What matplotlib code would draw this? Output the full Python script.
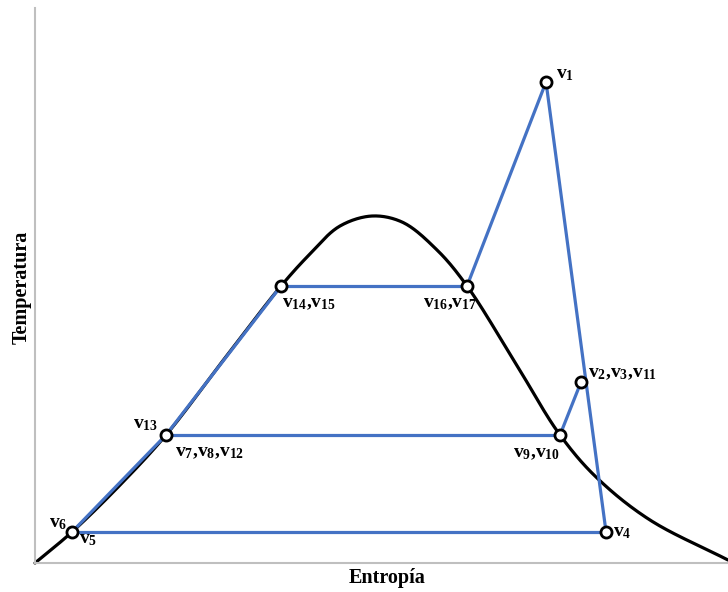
import matplotlib
matplotlib.use("Agg")
import matplotlib.pyplot as plt
import numpy as np

plt.rcParams['font.family'] = ['Liberation Serif', 'DejaVu Serif']
plt.rcParams['mathtext.fontset'] = 'custom'
plt.rcParams['mathtext.rm'] = 'Liberation Serif:bold'
plt.rcParams['mathtext.it'] = 'Liberation Serif:bold'
plt.rcParams['mathtext.bf'] = 'Liberation Serif:bold'

BLUE = '#4472C4'
GRID = '#BFBFBF'

# saturation dome (entropy, temperature), arbitrary units
dome_s = [0.0, 5.34, 12.27, 18.90, 27.42, 35.50, 39.68, 44.01, 48.63,
          52.96, 58.01, 62.34, 69.41, 75.76, 81.10, 88.74, 100.0]
dome_T = [0.0, 5.59, 14.05, 23.06, 36.94, 49.91, 55.68, 60.72, 62.52,
          61.44, 56.40, 49.91, 35.86, 23.06, 15.32, 7.75, 0.54]

# cycle state points
states = {
    'v1': (73.74, 86.67),
    'v2': (78.79, 32.61),
    'v4': (82.40, 5.59),
    'v5': (5.34, 5.59),
    'v7': (18.90, 23.06),
    'v9': (75.76, 23.06),
    'v14': (35.50, 49.91),
    'v16': (62.34, 49.91),
}

# cycle path segments
segments = [
    ('v5', 'v7'), ('v7', 'v14'), ('v14', 'v16'), ('v16', 'v1'),
    ('v1', 'v4'), ('v4', 'v5'), ('v7', 'v9'), ('v9', 'v2'),
]

# labels: text, anchor state, pixel offset, alignment
labels = [
    (r'$\mathrm{v}_{1}$', 'v1', (10, 4), 'left'),
    (r'$\mathrm{v}_{2}$,$\mathrm{v}_{3}$,$\mathrm{v}_{11}$', 'v2', (7, 5), 'left'),
    (r'$\mathrm{v}_{4}$', 'v4', (7, -4), 'left'),
    (r'$\mathrm{v}_{5}$', 'v5', (7, -11), 'left'),
    (r'$\mathrm{v}_{6}$', 'v5', (-5, 5), 'right'),
    (r'$\mathrm{v}_{13}$', 'v7', (-8, 7), 'right'),
    (r'$\mathrm{v}_{7}$,$\mathrm{v}_{8}$,$\mathrm{v}_{12}$', 'v7', (9, -21), 'left'),
    (r'$\mathrm{v}_{9}$,$\mathrm{v}_{10}$', 'v9', (0, -22), 'right'),
    (r'$\mathrm{v}_{14}$,$\mathrm{v}_{15}$', 'v14', (1, -21), 'left'),
    (r'$\mathrm{v}_{16}$,$\mathrm{v}_{17}$', 'v16', (10, -21), 'right'),
]


def smooth(xs, ys, n=30, alpha=0.5):
    # centripetal Catmull-Rom through the points (no overshoot between uneven points)
    p = np.column_stack([xs, ys]).astype(float)
    p = np.vstack([2 * p[0] - p[1], p, 2 * p[-1] - p[-2]])
    out = []
    for i in range(1, len(p) - 2):
        p0, p1, p2, p3 = p[i - 1], p[i], p[i + 1], p[i + 2]
        t0 = 0.0
        t1 = t0 + np.linalg.norm(p1 - p0) ** alpha
        t2 = t1 + np.linalg.norm(p2 - p1) ** alpha
        t3 = t2 + np.linalg.norm(p3 - p2) ** alpha
        t = np.linspace(t1, t2, n, endpoint=False)[:, None]
        a1 = (t1 - t) / (t1 - t0) * p0 + (t - t0) / (t1 - t0) * p1
        a2 = (t2 - t) / (t2 - t1) * p1 + (t - t1) / (t2 - t1) * p2
        a3 = (t3 - t) / (t3 - t2) * p2 + (t - t2) / (t3 - t2) * p3
        b1 = (t2 - t) / (t2 - t0) * a1 + (t - t0) / (t2 - t0) * a2
        b2 = (t3 - t) / (t3 - t1) * a2 + (t - t1) / (t3 - t1) * a3
        out.append((t2 - t) / (t2 - t1) * b1 + (t - t1) / (t2 - t1) * b2)
    out.append(p[-2][None, :])
    out = np.vstack(out)
    return out[:, 0], out[:, 1]


fig = plt.figure(figsize=(7.28, 5.92), dpi=100)
ax = fig.add_axes([35 / 728, 29 / 592, 693 / 728, 555 / 592])
ax.set_xlim(0, 100)
ax.set_ylim(0, 100)

sx, sy = smooth(dome_s, dome_T)
ax.plot(sx, sy, color='black', lw=2.3, zorder=2, clip_on=False,
        solid_capstyle='round')

for a, b in segments:
    xa, ya = states[a]
    xb, yb = states[b]
    ax.plot([xa, xb], [ya, yb], color=BLUE, lw=2.3, zorder=3,
            solid_capstyle='round')

px = [v[0] for v in states.values()]
py = [v[1] for v in states.values()]
ax.plot(px, py, 'o', ms=8, mfc='white', mec='black', mew=2.0, zorder=4)

for text, key, off, ha in labels:
    ax.annotate(text, states[key], xytext=off, textcoords='offset pixels',
                ha=ha, va='baseline', fontsize=14, fontweight='bold', zorder=5)

for side in ['top', 'right']:
    ax.spines[side].set_visible(False)
for side in ['left', 'bottom']:
    ax.spines[side].set_color(GRID)
    ax.spines[side].set_linewidth(1.5)
ax.set_xticks([])
ax.set_yticks([])

fig.text(387 / 728, 1 - 578 / 592, 'Entropía', ha='center', va='center',
         fontsize=14.5, fontweight='bold')
fig.text(22 / 728, 1 - 287 / 592, 'Temperatura', ha='center', va='center',
         rotation=90, fontsize=14.5, fontweight='bold')

fig.savefig('out.png', dpi=100)
